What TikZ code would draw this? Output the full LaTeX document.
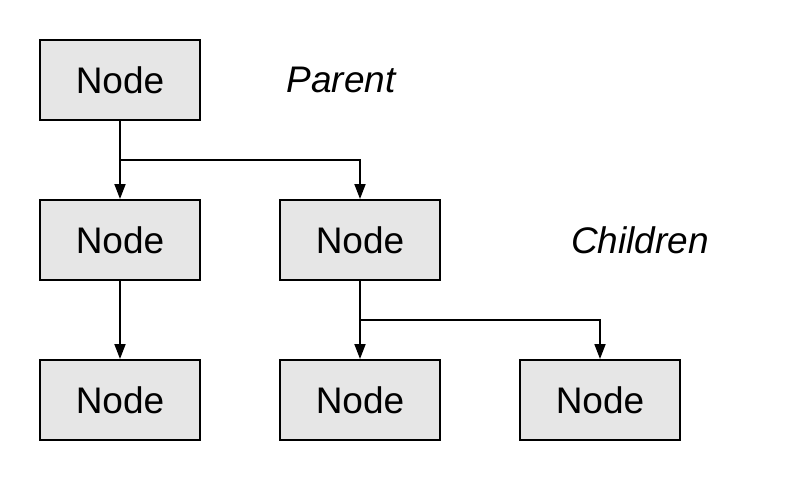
\documentclass[tikz,border=0pt]{standalone}
\usepackage{fontspec}
\setmainfont{Liberation Sans}
\usetikzlibrary{arrows.meta}
\definecolor{boxfill}{HTML}{E6E6E6}
\begin{document}
\begin{tikzpicture}[x=1pt,y=-1pt,
  box/.style={draw=black,line width=2pt,fill=boxfill,minimum width=160pt,minimum height=80pt,inner sep=0pt,font=\fontsize{37}{40}\selectfont},
  lbl/.style={font=\fontsize{37}{40}\selectfont\itshape},
  conn/.style={line width=1.8pt,-{Triangle[length=15pt,width=11pt]}}]
\useasboundingbox (0,0) rectangle (800,480);
\node[box] (p) at (120,80) {Node};
\node[box] (c1) at (120,240) {Node};
\node[box] (c2) at (360,240) {Node};
\node[box] (g1) at (120,400) {Node};
\node[box] (g2) at (360,400) {Node};
\node[box] (g3) at (600,400) {Node};
\node[lbl] (lp) at (341,80) {Parent};
\node[lbl] (lc) at (640,240) {Children};
\coordinate (b1) at (120,160);
\coordinate (b2) at (360,320);
\draw[conn] (p.south) -- (c1.north);
\draw[conn] (b1) -| (c2.north);
\draw[conn] (c1.south) -- (g1.north);
\draw[conn] (c2.south) -- (g2.north);
\draw[conn] (b2) -| (g3.north);
\end{tikzpicture}
\end{document}
